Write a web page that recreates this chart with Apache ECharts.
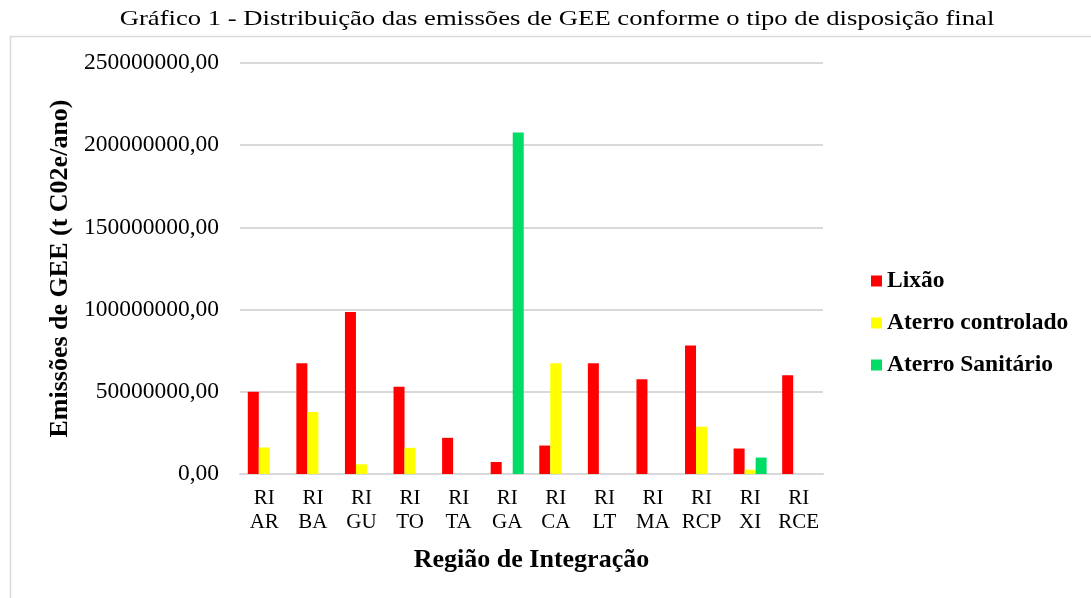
<!DOCTYPE html>
<html lang="pt">
<head>
<meta charset="utf-8">
<title>Gráfico 1</title>
<script src="https://cdn.jsdelivr.net/npm/echarts@6/dist/echarts.min.js"></script>
<style>
  html, body { margin: 0; padding: 0; background: #fff; }
  #chart { width: 1091px; height: 598px; }
</style>
</head>
<body>
<div id="chart"></div>
<script>
// dados
var categorias = ['RI\nAR', 'RI\nBA', 'RI\nGU', 'RI\nTO', 'RI\nTA', 'RI\nGA', 'RI\nCA', 'RI\nLT', 'RI\nMA', 'RI\nRCP', 'RI\nXI', 'RI\nRCE'];
var lixao = [50000000, 67300000, 98500000, 53000000, 22000000, 7300000, 17300000, 67300000, 57700000, 78100000, 15500000, 60000000];
var aterroControlado = [16100000, 37700000, 5900000, 15900000, '-', '-', 67300000, '-', '-', 28800000, 2600000, '-'];
var aterroSanitario = ['-', '-', '-', '-', '-', 207800000, '-', '-', '-', '-', 10000000, '-'];
var yTicks = [0, 50000000, 100000000, 150000000, 200000000, 250000000];

var fonte = 'Liberation Serif';
var chart = echarts.init(document.getElementById('chart'));

var option = {
    animation: false,
    textStyle: { fontFamily: fonte },
    graphic: [{
        type: 'rect',
        shape: { x: 10.5, y: 36.5, width: 1100, height: 600 },
        style: { fill: 'none', stroke: '#d9d9d9', lineWidth: 1.5 },
        silent: true
    }, {
        // título (esticado na horizontal como no original)
        type: 'text',
        x: 557,
        y: 19,
        scaleX: 1.27,
        style: {
            text: 'Gráfico 1 - Distribuição das emissões de GEE conforme o tipo de disposição final',
            fontFamily: fonte,
            fontSize: 21,
            fill: '#000',
            align: 'center',
            verticalAlign: 'middle'
        }
    }],
    legend: {
        orient: 'vertical',
        left: 866,
        top: 264,
        itemWidth: 11,
        itemHeight: 11,
        itemGap: 18,
        icon: 'rect',
        textStyle: { fontFamily: fonte, fontSize: 23.5, lineHeight: 24, fontWeight: 'bold', color: '#000', padding: [0, 0, 0, 0] },
        data: ['Lixão', 'Aterro controlado', 'Aterro Sanitário']
    },
    grid: { left: 240, right: 268, top: 63, bottom: 124, containLabel: false },
    xAxis: {
        type: 'category',
        data: categorias,
        name: 'Região de Integração',
        nameLocation: 'middle',
        nameGap: 73,
        nameTextStyle: { fontFamily: fonte, fontSize: 26, fontWeight: 'bold', color: '#000' },
        axisLine: { lineStyle: { color: '#d9d9d9', width: 2 } },
        axisTick: { show: false },
        axisLabel: { interval: 0, fontFamily: fonte, fontSize: 21, color: '#000', lineHeight: 24, margin: 12 }
    },
    yAxis: {
        type: 'value',
        min: 0,
        max: yTicks[yTicks.length - 1],
        interval: yTicks[1] - yTicks[0],
        name: 'Emissões de GEE (t C02e/ano)',
        nameLocation: 'middle',
        nameGap: 165,
        nameTextStyle: { fontFamily: fonte, fontSize: 26, fontWeight: 'bold', color: '#000' },
        axisLine: { show: false },
        axisTick: { show: false },
        splitLine: { lineStyle: { color: '#d9d9d9', width: 2 } },
        axisLabel: {
            fontFamily: fonte, fontSize: 23.5, color: '#000', margin: 21,
            formatter: function (v) { return v.toFixed(2).replace('.', ','); }
        }
    },
    series: [
        { name: 'Lixão', type: 'bar', data: lixao, itemStyle: { color: '#ff0000' }, barGap: '0%', barCategoryGap: '32%' },
        { name: 'Aterro controlado', type: 'bar', data: aterroControlado, itemStyle: { color: '#ffff00' } },
        { name: 'Aterro Sanitário', type: 'bar', data: aterroSanitario, itemStyle: { color: '#00dd66' } }
    ]
};
chart.setOption(option);
</script>
</body>
</html>
